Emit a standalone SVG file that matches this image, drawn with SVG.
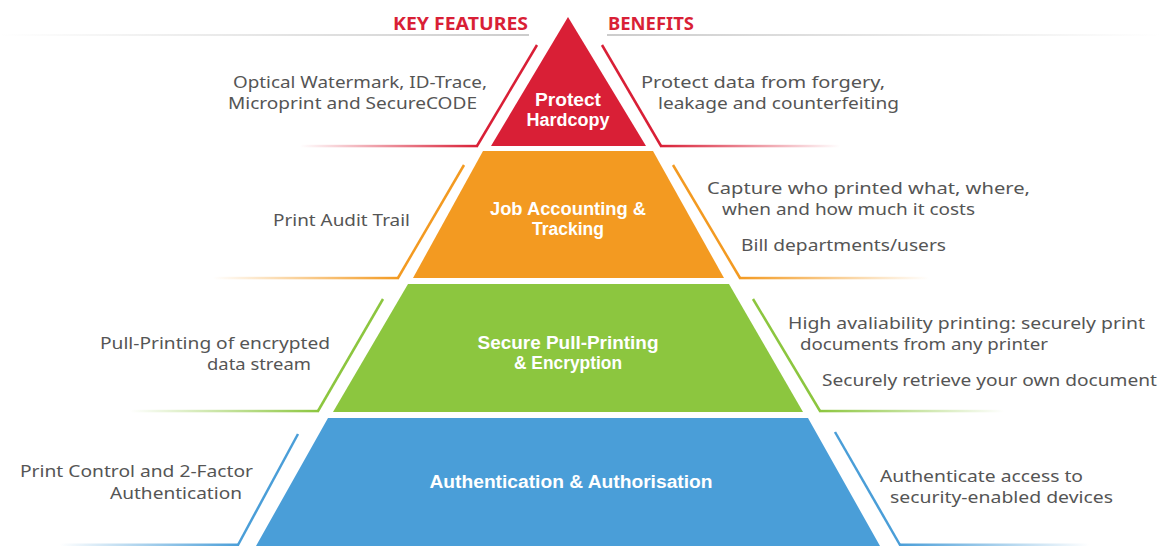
<svg xmlns="http://www.w3.org/2000/svg" width="1161" height="546" viewBox="0 0 1161 546">
<defs>
<style>
.t{font-family:"Noto Sans","Open Sans",sans-serif;font-size:17px;fill:#555}
.h{font-family:"Noto Sans","Open Sans",sans-serif;font-size:17px;font-weight:bold;fill:#d91f36}
.l{font-family:"Liberation Sans","Noto Sans",sans-serif;font-size:17.5px;font-weight:bold;fill:#fff;text-anchor:middle}
.br{fill:none;stroke-width:2.5}
</style>
<linearGradient id="gL" x1="0" y1="0" x2="1" y2="0"><stop offset="0" stop-color="#ccc" stop-opacity="0"/><stop offset="1" stop-color="#ccc"/></linearGradient>
<linearGradient id="gR" x1="0" y1="0" x2="1" y2="0"><stop offset="0" stop-color="#ccc"/><stop offset="1" stop-color="#ccc" stop-opacity="0"/></linearGradient>
<linearGradient id="rL" x1="0" y1="0" x2="1" y2="0"><stop offset="0" stop-color="#d91f36" stop-opacity="0"/><stop offset="1" stop-color="#d91f36"/></linearGradient>
<linearGradient id="rR" x1="0" y1="0" x2="1" y2="0"><stop offset="0" stop-color="#d91f36"/><stop offset="1" stop-color="#d91f36" stop-opacity="0"/></linearGradient>
<linearGradient id="oL" x1="0" y1="0" x2="1" y2="0"><stop offset="0" stop-color="#f39a21" stop-opacity="0"/><stop offset="1" stop-color="#f39a21"/></linearGradient>
<linearGradient id="oR" x1="0" y1="0" x2="1" y2="0"><stop offset="0" stop-color="#f39a21"/><stop offset="1" stop-color="#f39a21" stop-opacity="0"/></linearGradient>
<linearGradient id="nL" x1="0" y1="0" x2="1" y2="0"><stop offset="0" stop-color="#8cc63f" stop-opacity="0"/><stop offset="1" stop-color="#8cc63f"/></linearGradient>
<linearGradient id="nR" x1="0" y1="0" x2="1" y2="0"><stop offset="0" stop-color="#8cc63f"/><stop offset="1" stop-color="#8cc63f" stop-opacity="0"/></linearGradient>
<linearGradient id="bL" x1="0" y1="0" x2="1" y2="0"><stop offset="0" stop-color="#4a9ed8" stop-opacity="0"/><stop offset="1" stop-color="#4a9ed8"/></linearGradient>
<linearGradient id="bR" x1="0" y1="0" x2="1" y2="0"><stop offset="0" stop-color="#4a9ed8"/><stop offset="1" stop-color="#4a9ed8" stop-opacity="0"/></linearGradient>
</defs>
<rect width="1161" height="546" fill="#fff"/>

<g id="headers">
<rect x="0" y="34" width="529" height="2" fill="url(#gL)"/>
<rect x="607" y="34" width="554" height="2" fill="url(#gR)"/>
<text class="h" x="393" y="30" textLength="135" lengthAdjust="spacingAndGlyphs">KEY FEATURES</text>
<text class="h" x="608" y="30" textLength="86" lengthAdjust="spacingAndGlyphs">BENEFITS</text>
</g>

<g id="connectors">
<path class="br" stroke="#d91f36" d="M537,45 L477,146"/>
<rect x="300" y="144.8" width="178" height="2.5" fill="url(#rL)"/>
<path class="br" stroke="#d91f36" d="M602,45 L661,146"/>
<rect x="660" y="144.8" width="180" height="2.5" fill="url(#rR)"/>

<path class="br" stroke="#f39a21" d="M464,165 L398,278"/>
<rect x="213" y="276.8" width="186" height="2.5" fill="url(#oL)"/>
<path class="br" stroke="#f39a21" d="M673,165 L740,278"/>
<rect x="739" y="276.8" width="190" height="2.5" fill="url(#oR)"/>

<path class="br" stroke="#8cc63f" d="M383,299 L318,411"/>
<rect x="130" y="409.8" width="189" height="2.5" fill="url(#nL)"/>
<path class="br" stroke="#8cc63f" d="M753,299 L820,411"/>
<rect x="819" y="409.8" width="185" height="2.5" fill="url(#nR)"/>

<path class="br" stroke="#4a9ed8" d="M298,434 L238,545"/>
<rect x="60" y="543.5" width="179" height="2.5" fill="url(#bL)"/>
<path class="br" stroke="#4a9ed8" d="M835,432 L900,545"/>
<rect x="899" y="543.5" width="190" height="2.5" fill="url(#bR)"/>
</g>

<g id="tier-protect">
<polygon points="568,17 646,146 491,146" fill="#d91f36"/>
<text class="l" x="568" y="106" textLength="66" lengthAdjust="spacingAndGlyphs">Protect</text>
<text class="l" x="568" y="126" textLength="83" lengthAdjust="spacingAndGlyphs">Hardcopy</text>
</g>
<g id="tier-job">
<polygon points="483,151 653,151 724,278 413,278" fill="#f39a21"/>
<text class="l" x="568" y="215" textLength="156" lengthAdjust="spacingAndGlyphs">Job Accounting &amp;</text>
<text class="l" x="568" y="235" textLength="72" lengthAdjust="spacingAndGlyphs">Tracking</text>
</g>
<g id="tier-pull">
<polygon points="408,284 729,284 803,412 333,412" fill="#8cc63f"/>
<text class="l" x="568" y="349" textLength="181" lengthAdjust="spacingAndGlyphs">Secure Pull-Printing</text>
<text class="l" x="568" y="369" textLength="108" lengthAdjust="spacingAndGlyphs">&amp; Encryption</text>
</g>
<g id="tier-auth">
<polygon points="328,418 808,418 880,546 256,546" fill="#4a9ed8"/>
<text class="l" x="571" y="488" textLength="283" lengthAdjust="spacingAndGlyphs">Authentication &amp; Authorisation</text>
</g>

<g id="features">
<text class="t" x="233" y="88" textLength="254" lengthAdjust="spacingAndGlyphs">Optical Watermark, ID-Trace,</text>
<text class="t" x="228" y="109" textLength="249" lengthAdjust="spacingAndGlyphs">Microprint and SecureCODE</text>
<text class="t" x="273" y="226" textLength="137" lengthAdjust="spacingAndGlyphs">Print Audit Trail</text>
<text class="t" x="100" y="349" textLength="230" lengthAdjust="spacingAndGlyphs">Pull-Printing of encrypted</text>
<text class="t" x="207" y="370" textLength="104" lengthAdjust="spacingAndGlyphs">data stream</text>
<text class="t" x="20" y="477" textLength="233" lengthAdjust="spacingAndGlyphs">Print Control and 2-Factor</text>
<text class="t" x="110" y="499" textLength="132" lengthAdjust="spacingAndGlyphs">Authentication</text>
</g>

<g id="benefits">
<text class="t" x="641" y="88" textLength="244" lengthAdjust="spacingAndGlyphs">Protect data from forgery,</text>
<text class="t" x="658" y="109" textLength="241" lengthAdjust="spacingAndGlyphs">leakage and counterfeiting</text>
<text class="t" x="707" y="194" textLength="323" lengthAdjust="spacingAndGlyphs">Capture who printed what, where,</text>
<text class="t" x="722" y="215" textLength="253" lengthAdjust="spacingAndGlyphs">when and how much it costs</text>
<text class="t" x="741" y="251" textLength="205" lengthAdjust="spacingAndGlyphs">Bill departments/users</text>
<text class="t" x="788" y="329" textLength="357" lengthAdjust="spacingAndGlyphs">High avaliability printing: securely print</text>
<text class="t" x="800" y="350" textLength="248" lengthAdjust="spacingAndGlyphs">documents from any printer</text>
<text class="t" x="822" y="386" textLength="335" lengthAdjust="spacingAndGlyphs">Securely retrieve your own document</text>
<text class="t" x="880" y="482" textLength="203" lengthAdjust="spacingAndGlyphs">Authenticate access to</text>
<text class="t" x="890" y="503" textLength="223" lengthAdjust="spacingAndGlyphs">security-enabled devices</text>
</g>
</svg>
